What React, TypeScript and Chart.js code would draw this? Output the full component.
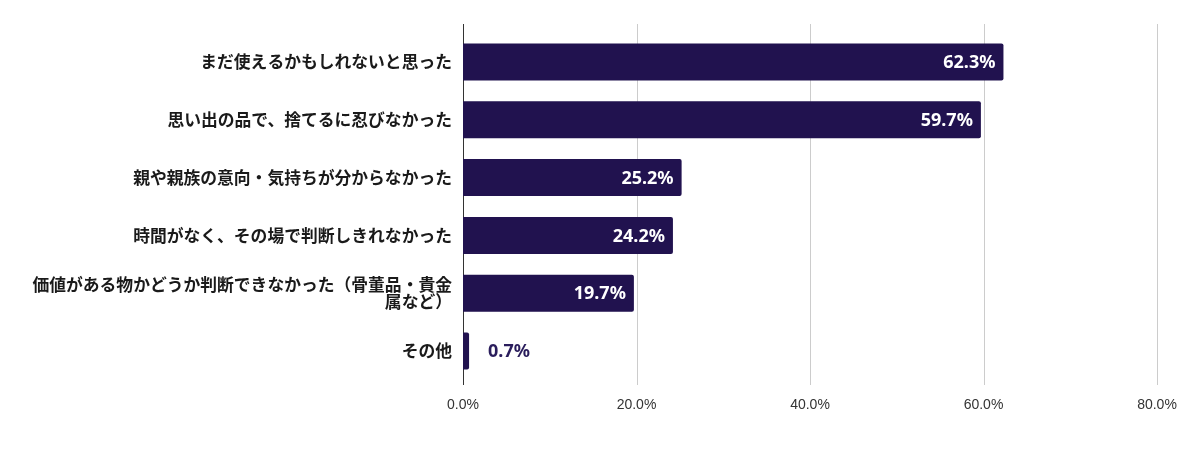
import { useEffect, useRef } from "react";
import { Chart, registerables } from "chart.js";

Chart.register(...registerables);

const categories: (string | string[])[] = [
  "まだ使えるかもしれないと思った",
  "思い出の品で、捨てるに忍びなかった",
  "親や親族の意向・気持ちが分からなかった",
  "時間がなく、その場で判断しきれなかった",
  ["価値がある物かどうか判断できなかった（骨董品・貴金", "属など）"],
  "その他",
];
const values = [62.3, 59.7, 25.2, 24.2, 19.7, 0.7];
const xTicks = [0, 20, 40, 60, 80];

const BAR_COLOR = "#21124f";

// vertical gridlines, a bit taller than the plot area like the original
const gridPlugin = {
  id: "tallGrid",
  beforeDatasetsDraw(chart: any) {
    const { ctx, chartArea, scales } = chart;
    const x = scales.x;
    ctx.save();
    ctx.lineWidth = 1;
    xTicks.forEach((t) => {
      const px = Math.round(x.getPixelForValue(t)) + 0.5;
      ctx.strokeStyle = t === 0 ? "#333333" : "#cccccc";
      ctx.beginPath();
      ctx.moveTo(px, chartArea.top - 9);
      ctx.lineTo(px, chartArea.bottom + 5);
      ctx.stroke();
    });
    ctx.restore();
  },
};

// value labels at the end of each bar
const valueLabelPlugin = {
  id: "valueLabels",
  afterDatasetsDraw(chart: any) {
    const { ctx } = chart;
    const meta = chart.getDatasetMeta(0);
    ctx.save();
    ctx.font = "bold 18px 'Noto Sans', Roboto, sans-serif";
    ctx.textBaseline = "middle";
    meta.data.forEach((bar: any, i: number) => {
      const text = values[i].toFixed(1) + "%";
      const w = ctx.measureText(text).width;
      if (bar.x - bar.base > w + 16) {
        ctx.fillStyle = "#ffffff";
        ctx.textAlign = "right";
        ctx.fillText(text, bar.x - 8, bar.y + 1);
      } else {
        ctx.fillStyle = "#2a1d5c";
        ctx.textAlign = "left";
        ctx.fillText(text, bar.x + 19, bar.y + 1);
      }
    });
    ctx.restore();
  },
};

const App = () => {
  const chartRef = useRef<HTMLCanvasElement | null>(null);

  useEffect(() => {
    document.body.style.margin = "0";
    if (chartRef.current) {
      const chart = new Chart(chartRef.current, {
        type: "bar",
        data: {
          labels: categories,
          datasets: [
            {
              data: values,
              backgroundColor: BAR_COLOR,
              borderRadius: 2,
              borderSkipped: "start",
              categoryPercentage: 1,
              barPercentage: 0.64,
            },
          ],
        },
        options: {
          indexAxis: "y",
          responsive: true,
          maintainAspectRatio: false,
          animation: false,
          layout: { padding: { top: 33, right: 23, bottom: 0, left: 0 } },
          plugins: {
            legend: { display: false },
            tooltip: { enabled: false },
          },
          scales: {
            x: {
              min: 0,
              max: 80,
              afterFit: (scale: any) => {
                scale.height = 91;
                scale.paddingLeft = 0;
                scale.paddingRight = 0;
              },
              afterBuildTicks: (scale: any) => {
                scale.ticks = xTicks.map((v) => ({ value: v }));
              },
              grid: { display: false, drawTicks: false },
              border: { display: false },
              ticks: {
                padding: 17,
                color: "#333333",
                font: { family: "'Liberation Sans', Arial, sans-serif", size: 14 },
                callback: (v: string | number) => Number(v).toFixed(1) + "%",
              },
            },
            y: {
              afterFit: (scale: any) => {
                scale.width = 463;
              },
              grid: { display: false, drawTicks: false },
              border: { display: false },
              ticks: {
                padding: 11,
                color: "#1a1a1a",
                font: {
                  family: "'Noto Sans CJK JP', sans-serif",
                  size: 16.8,
                  weight: "bold",
                  lineHeight: 1.0,
                },
              },
            },
          },
        },
        plugins: [gridPlugin, valueLabelPlugin],
      });

      return () => {
        chart.destroy();
      };
    }
  }, []);

  return (
    <div style={{ position: "relative", width: 1180, height: 471 }}>
      <canvas ref={chartRef} />
    </div>
  );
};

export default App;
